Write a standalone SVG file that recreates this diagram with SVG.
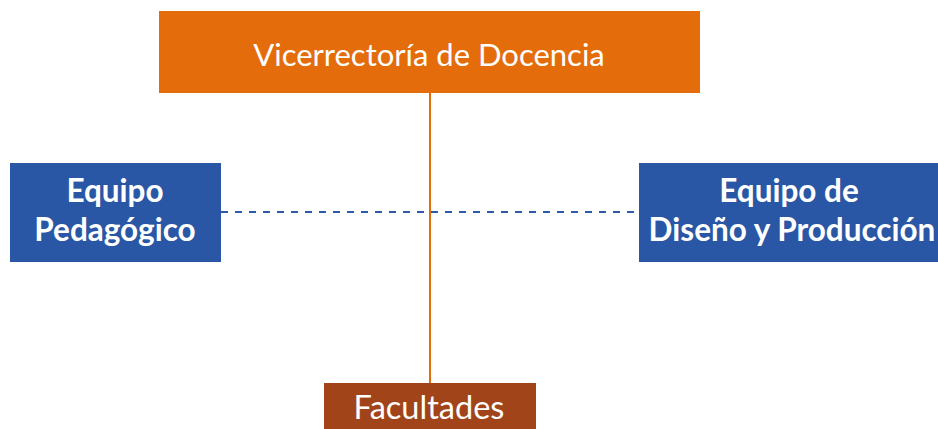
<svg xmlns="http://www.w3.org/2000/svg" width="938" height="429" viewBox="0 0 938 429">
<style>
.t{font-family:Lato,"Open Sans",sans-serif;fill:#fff;text-anchor:middle}
.b{font-weight:bold;font-size:31.5px}
.r{font-size:31px}
</style>
<rect width="938" height="429" fill="#fff"/>
<g id="connectors">
<line x1="430" y1="93" x2="430" y2="383" stroke="#E46C0A" stroke-width="2"/>
<line x1="221" y1="212" x2="639" y2="212" stroke="#2F5AA8" stroke-width="2" stroke-dasharray="7,7"/>
</g>
<g id="vicerrectoria">
<rect x="159" y="11" width="541" height="82" fill="#E46C0A"/>
<text class="t r" x="429" y="66">Vicerrectoría de Docencia</text>
</g>
<g id="pedagogico">
<rect x="10" y="163" width="211" height="99" fill="#2A57A5"/>
<text class="t b" x="115" y="202">Equipo</text>
<text class="t b" x="115" y="241">Pedagógico</text>
</g>
<g id="diseno">
<rect x="639" y="163" width="299" height="99" fill="#2A57A5"/>
<text class="t b" x="789" y="202">Equipo de</text>
<text class="t b" x="792" y="241">Diseño y Producción</text>
</g>
<g id="facultades">
<rect x="324" y="383" width="212" height="46" fill="#A2441A"/>
<text class="t" style="font-size:32.5px" x="429" y="419">Facultades</text>
</g>
</svg>
